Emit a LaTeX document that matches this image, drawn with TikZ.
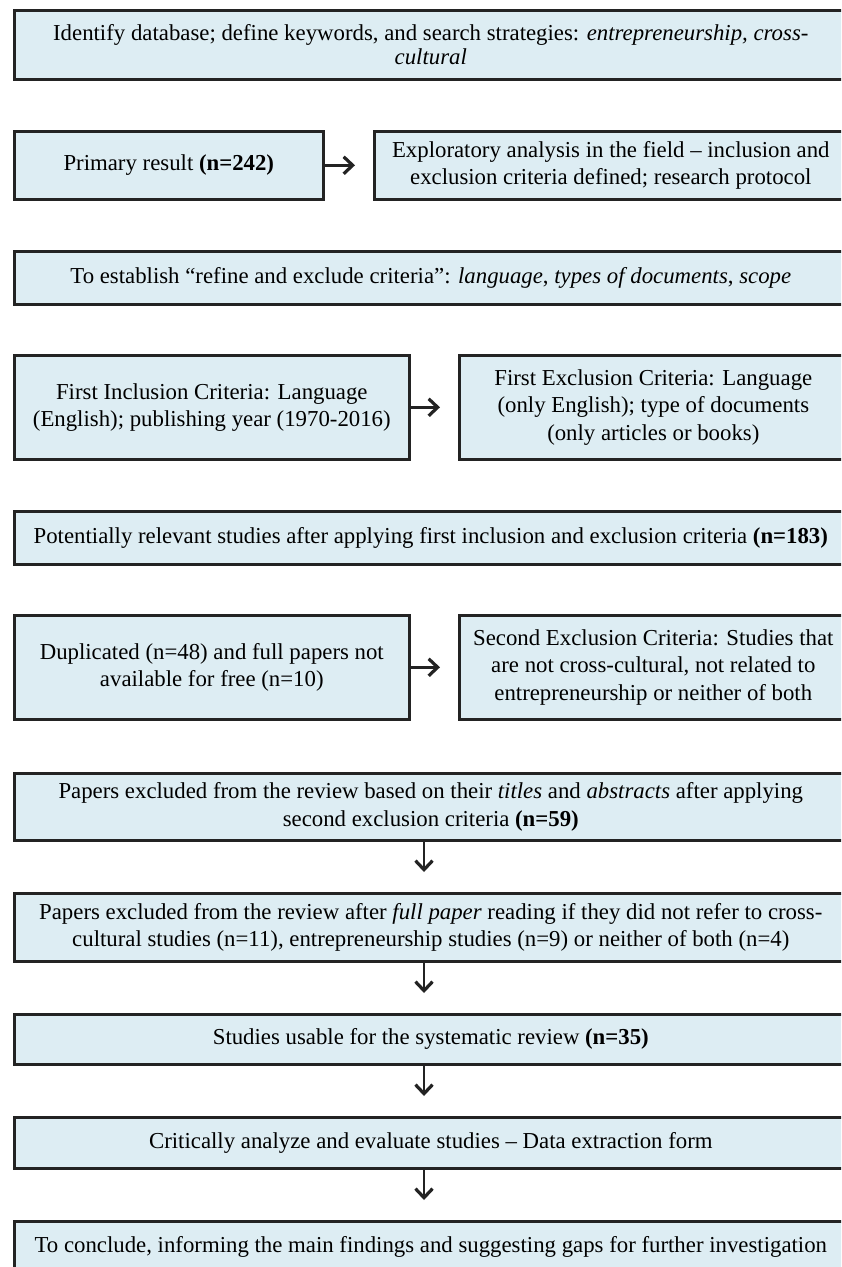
\documentclass[tikz,border=0pt]{standalone}
\usepackage{fontspec}
\setmainfont{Liberation Serif}
\usetikzlibrary{arrows.meta}
\definecolor{boxfill}{RGB}{221,237,243}
\definecolor{edge}{RGB}{35,35,35}
\newcommand{\nfont}{\fontsize{11.4}{11.8}\selectfont}
\newcommand{\wfont}{\fontsize{11.4}{13.7}\selectfont}
\begin{document}
\begin{tikzpicture}[x=0.5pt,y=-0.5pt,
  box/.style={draw=edge, line width=1.3pt, fill=boxfill, inner sep=0pt, align=center, anchor=north west},
  nbox/.style={box, font=\nfont},
  wbox/.style={box, font=\wfont},
  arr/.style={draw=edge, line width=1.3pt, -{Straight Barb[length=4.5pt,width=8.5pt,line width=1.6pt]}},
]
\useasboundingbox (0,0) rectangle (841,1267);
\clip (0,0) rectangle (841,1267);
\coordinate (axis) at (424,0);

\node[nbox, minimum width=416.5pt, minimum height=34.5pt] (b1) at (13,9)
  {Identify database; define keywords, and search strategies: \textit{entrepreneurship, cross-}\\\textit{cultural}};

\node[wbox, minimum width=154.5pt, minimum height=34pt] (b2l) at (13,130)
  {Primary result \textbf{(n=242)}};
\node[wbox, minimum width=236.5pt, minimum height=34pt] (b2r) at (373,130)
  {Exploratory analysis in the field -- inclusion and\\exclusion criteria defined; research protocol};

\node[nbox, minimum width=416.5pt, minimum height=26.5pt] (b3) at (13,250)
  {To establish “refine and exclude criteria”: \textit{language}, \textit{types of documents}, \textit{scope}};

\node[wbox, minimum width=197.5pt, minimum height=52pt] (b4l) at (13,354)
  {First Inclusion Criteria: Language\\(English); publishing year (1970-2016)};
\node[wbox, minimum width=194pt, minimum height=52pt] (b4r) at (458,354)
  {First Exclusion Criteria: Language\\(only English); type of documents\\(only articles or books)};

\node[nbox, minimum width=416.5pt, minimum height=26.5pt] (b5) at (13,510)
  {Potentially relevant studies after applying first inclusion and exclusion criteria \textbf{(n=183)}};

\node[wbox, minimum width=197.5pt, minimum height=52pt] (b6l) at (13,614)
  {Duplicated (n=48) and full papers not\\available for free (n=10)};
\node[wbox, minimum width=194pt, minimum height=52pt] (b6r) at (458,614)
  {Second Exclusion Criteria: Studies that\\are not cross-cultural, not related to\\entrepreneurship or neither of both};

\node[wbox, minimum width=416.5pt, minimum height=33.5pt] (b7) at (13,772)
  {Papers excluded from the review based on their \textit{titles} and \textit{abstracts} after applying\\second exclusion criteria \textbf{(n=59)}};

\node[wbox, minimum width=416.5pt, minimum height=34pt] (b8) at (13,892)
  {Papers excluded from the review after \textit{full paper} reading if they did not refer to cross-\\cultural studies (n=11), entrepreneurship studies (n=9) or neither of both (n=4)};

\node[wbox, minimum width=416.5pt, minimum height=25pt] (b9) at (13,1013)
  {Studies usable for the systematic review \textbf{(n=35)}};

\node[wbox, minimum width=416.5pt, minimum height=25.5pt] (b10) at (13,1116)
  {Critically analyze and evaluate studies -- Data extraction form};

\node[nbox, minimum width=416.5pt, minimum height=26pt] (b11) at (13,1220)
  {To conclude, informing the main findings and suggesting gaps for further investigation};

\draw[arr, shorten >=9pt] (b2l.east) -- (b2r.west);
\draw[arr, shorten >=9pt] (b4l.east) -- (b4r.west);
\draw[arr, shorten >=9pt] (b6l.east) -- (b6r.west);
\draw[arr, shorten >=10pt] (b7.south -| axis) -- (b8.north -| axis);
\draw[arr, shorten >=10pt] (b8.south -| axis) -- (b9.north -| axis);
\draw[arr, shorten >=10pt] (b9.south -| axis) -- (b10.north -| axis);
\draw[arr, shorten >=10pt] (b10.south -| axis) -- (b11.north -| axis);
\end{tikzpicture}
\end{document}
